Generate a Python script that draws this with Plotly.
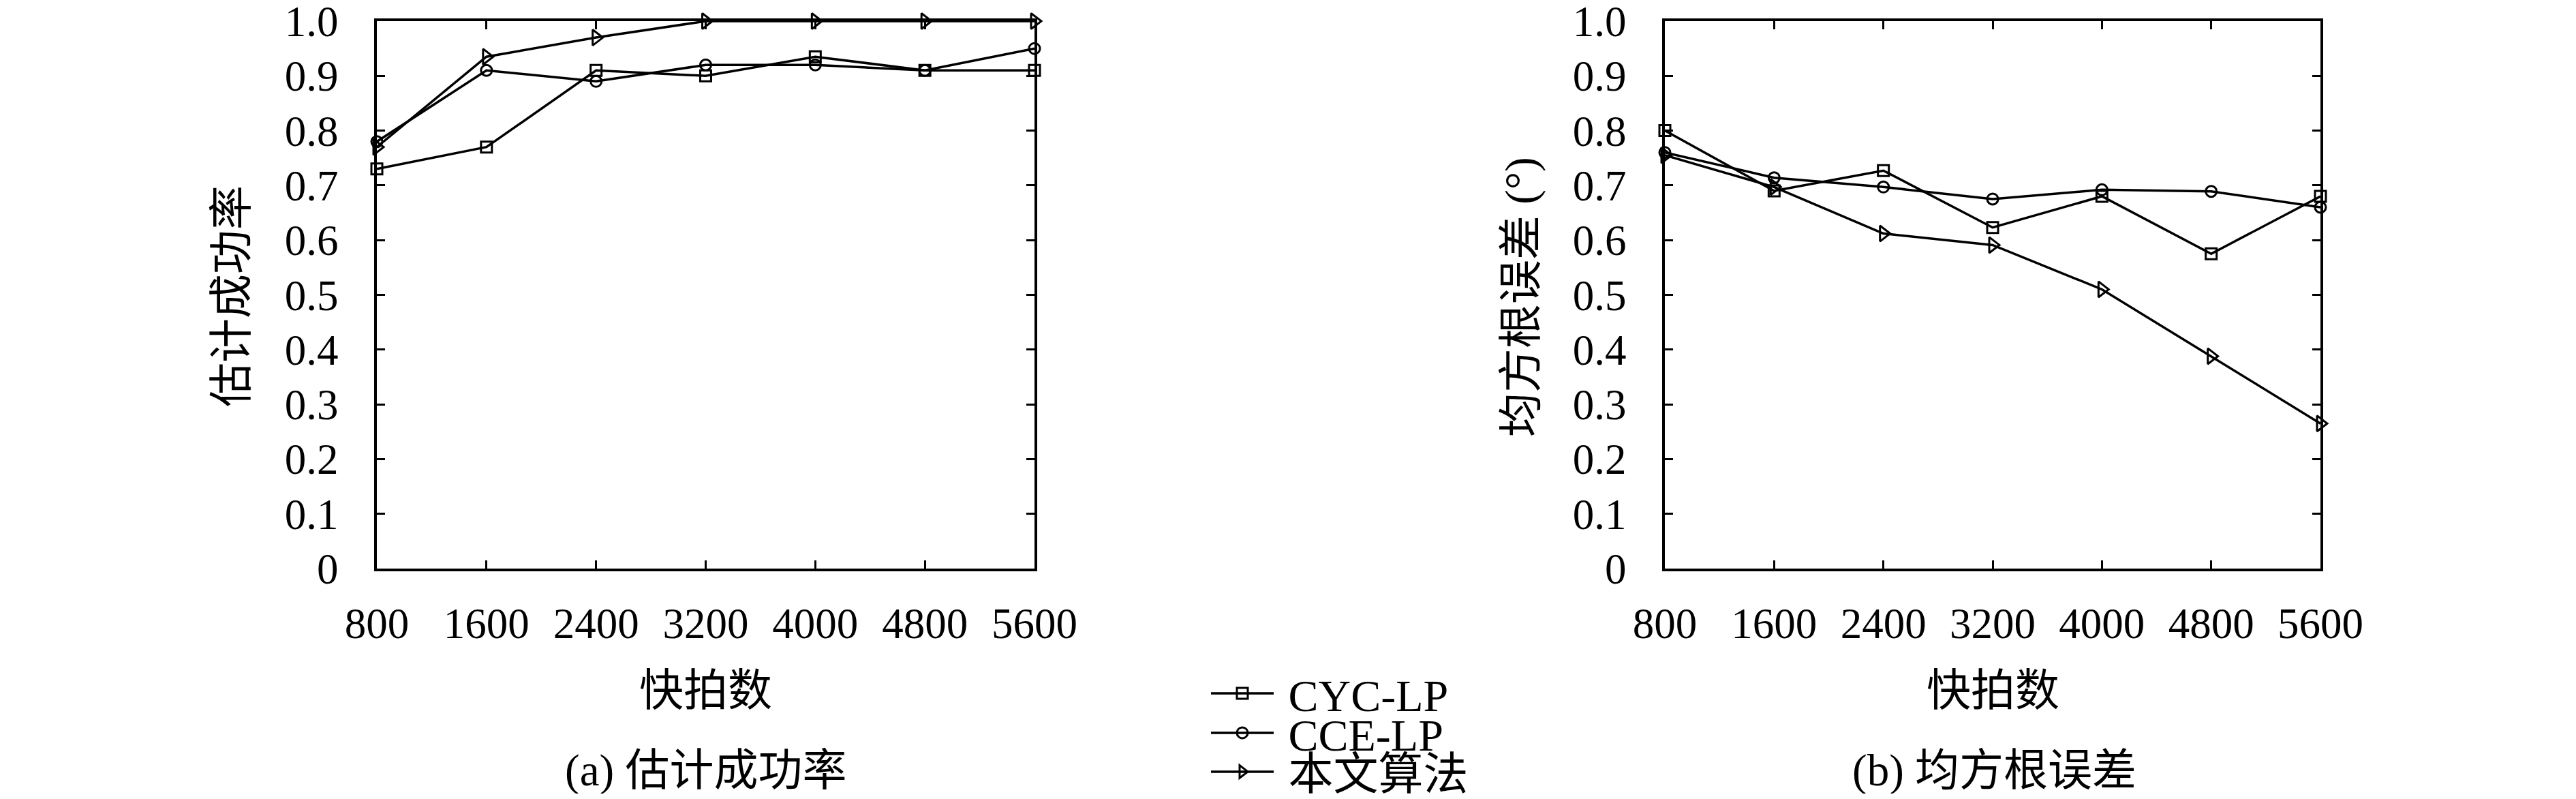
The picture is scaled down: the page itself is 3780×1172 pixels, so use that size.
import plotly.graph_objects as go

snapshots = [800, 1600, 2400, 3200, 4000, 4800, 5600]
series_names = ["CYC-LP", "CCE-LP", "本文算法"]

# (a) 估计成功率
success_cyc = [0.73, 0.77, 0.91, 0.90, 0.935, 0.91, 0.91]
success_cce = [0.78, 0.91, 0.89, 0.92, 0.92, 0.91, 0.95]
success_ours = [0.77, 0.935, 0.97, 1.0, 1.0, 1.0, 1.0]

# (b) 均方根误差
rmse_cyc = [0.80, 0.69, 0.727, 0.623, 0.68, 0.575, 0.68]
rmse_cce = [0.76, 0.714, 0.697, 0.675, 0.692, 0.689, 0.66]
rmse_ours = [0.755, 0.697, 0.612, 0.591, 0.51, 0.388, 0.265]

y_ticks = [0, 0.1, 0.2, 0.3, 0.4, 0.5, 0.6, 0.7, 0.8, 0.9, 1.0]
y_tick_text = ["0", "0.1", "0.2", "0.3", "0.4", "0.5", "0.6", "0.7", "0.8", "0.9", "1.0"]

FONT = "Liberation Serif, Noto Sans CJK SC"
symbols = ["square-open", "circle-open", "triangle-right-open"]
msizes = [16, 16, 20]
legend_ids = ["legend", "legend2", "legend3"]

fig = go.Figure()

for i, (name, ys) in enumerate(zip(series_names, [success_cyc, success_cce, success_ours])):
    fig.add_trace(go.Scatter(
        x=snapshots, y=ys, name="\u00a0" + name, mode="lines+markers",
        line=dict(color="black", width=3.5),
        marker=dict(symbol=symbols[i], size=msizes[i], color="black",
                    line=dict(width=3, color="black")),
        xaxis="x", yaxis="y", showlegend=True, legend=legend_ids[i], cliponaxis=False,
    ))
for i, (name, ys) in enumerate(zip(series_names, [rmse_cyc, rmse_cce, rmse_ours])):
    fig.add_trace(go.Scatter(
        x=snapshots, y=ys, name=name, mode="lines+markers",
        line=dict(color="black", width=3.5),
        marker=dict(symbol=symbols[i], size=msizes[i], color="black",
                    line=dict(width=3, color="black")),
        xaxis="x2", yaxis="y2", showlegend=False, cliponaxis=False,
    ))

# page has an 8px body margin: figure coordinates = page coordinates - 8
OFF = 8
W, H = 3780 - 2 * OFF, 1172 - 2 * OFF

def fx(px):
    return (px - OFF) / W

def fy(py):
    return 1 - (py - OFF) / H

ydom = [fy(834), fy(31)]

common_x = dict(
    range=[800, 5600], tickvals=snapshots, ticktext=[str(s) for s in snapshots],
    showline=True, linecolor="black", linewidth=4, mirror="ticks",
    ticks="inside", ticklen=12, tickwidth=3, tickcolor="black",
    showgrid=False, zeroline=False, ticklabelstandoff=22, automargin=False,
    ticklabeloverflow="allow",
    tickfont=dict(family=FONT, size=63, color="black"),
)
common_y = dict(
    range=[0, 1], tickvals=y_ticks, ticktext=y_tick_text,
    showline=True, linecolor="black", linewidth=4, mirror="ticks",
    ticks="inside", ticklen=12, tickwidth=3, tickcolor="black",
    showgrid=False, zeroline=False, ticklabelstandoff=40, automargin=False,
    ticklabeloverflow="allow",
    tickfont=dict(family=FONT, size=63, color="black"),
)

leg_common = dict(
    x=fx(1772), xanchor="left", yanchor="middle",
    font=dict(family=FONT, size=66, color="black"),
    itemwidth=92, bgcolor="rgba(0,0,0,0)", borderwidth=0,
)

ann_font = dict(family=FONT, size=65, color="black")

def ann(text, xpx, ypx, angle=0):
    return dict(text=text, x=fx(xpx), y=fy(ypx), xref="paper", yref="paper",
                xanchor="center", yanchor="middle", showarrow=False,
                textangle=angle, font=ann_font)

fig.update_layout(
    width=W, height=H,
    margin=dict(l=0, r=0, t=0, b=0, autoexpand=False),
    paper_bgcolor="white", plot_bgcolor="white",
    font=dict(family=FONT, size=63, color="black"),
    xaxis=dict(domain=[fx(553), fx(1518)], anchor="y", **common_x),
    yaxis=dict(domain=ydom, anchor="x", **common_y),
    xaxis2=dict(domain=[fx(2443), fx(3405)], anchor="y2", **common_x),
    yaxis2=dict(domain=ydom, anchor="x2", **common_y),
    legend=dict(y=fy(1017), **leg_common),
    legend2=dict(y=fy(1075), **leg_common),
    legend3=dict(y=fy(1132), **leg_common),
    annotations=[
        ann("快拍数", 1035, 1013),
        ann("快拍数", 2924, 1013),
        ann("(a) 估计成功率", 1035, 1130),
        ann("(b) 均方根误差", 2926, 1130),
        ann("估计成功率", 340, 435, -90),
        ann("均方根误差 (°)", 2232, 436, -90),
    ],
)

fig.write_html("out.html")
